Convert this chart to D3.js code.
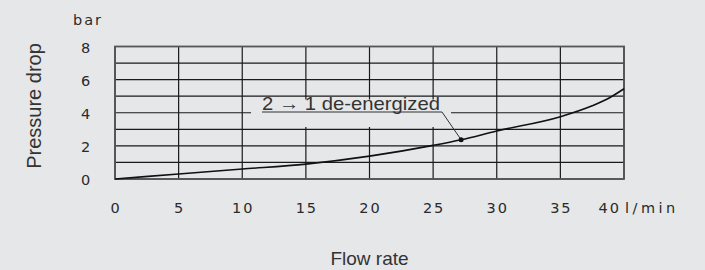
<!DOCTYPE html>
<html>
<head>
<meta charset="utf-8">
<script src="https://cdn.jsdelivr.net/npm/d3@7"></script>
<style>
  body { margin: 0; background: #e6e7e9; }
  svg { display: block; }
  .tick-label { font-family: "DejaVu Sans", sans-serif; font-size: 14.5px; fill: #2a2a2a; letter-spacing: 2px; }
  .title { font-family: "Liberation Sans", Arial, sans-serif; font-size: 20px; fill: #333; }
</style>
</head>
<body>
<svg id="chart"></svg>
<script>
// 데이터
var flowTicks = [0, 5, 10, 15, 20, 25, 30, 35, 40];
var pressureTicks = [0, 2, 4, 6, 8];
var pressureGrid = [0, 1, 2, 3, 4, 5, 6, 7, 8];
var flow = [0, 5, 10, 15, 20, 25, 27.2, 30, 35, 37.5, 38.8, 40];
var pressure = [0, 0.3, 0.6, 0.9, 1.38, 2.03, 2.37, 2.9, 3.76, 4.42, 4.88, 5.45];
var markFlow = 27.2, markPressure = 2.37;
var markLabel = "2 \u2192 1 de-energized";

var width = 705, height = 270;

var svg = d3.select("#chart")
    .attr("width", width)
    .attr("height", height);

svg.append("rect")
    .attr("width", width)
    .attr("height", height)
    .attr("fill", "#e6e7e9");

var x = d3.scaleLinear().domain([0, 40]).range([115, 624]);
var y = d3.scaleLinear().domain([0, 8]).range([179, 46.5]);

// 격자
var grid = svg.append("g").attr("stroke", "#1a1a1a").attr("stroke-width", 1.2);

grid.selectAll(".h")
    .data(pressureGrid)
    .enter().append("line")
    .attr("x1", x(0)).attr("x2", x(40))
    .attr("y1", function(d) { return y(d); })
    .attr("y2", function(d) { return y(d); });

grid.selectAll(".v")
    .data(flowTicks)
    .enter().append("line")
    .attr("y1", y(0)).attr("y2", y(8))
    .attr("x1", function(d) { return x(d); })
    .attr("x2", function(d) { return x(d); });

// 테두리
svg.append("rect")
    .attr("x", x(0)).attr("y", y(8))
    .attr("width", x(40) - x(0))
    .attr("height", y(0) - y(8))
    .attr("fill", "none")
    .attr("stroke", "#555")
    .attr("stroke-width", 1.8);

// 라벨 배경 (격자를 가림)
svg.append("rect")
    .attr("x", 251).attr("y", 99.5)
    .attr("width", 200).attr("height", 27.5)
    .attr("fill", "#e6e7e9");

// 곡선
var line = d3.line()
    .x(function(d, i) { return x(flow[i]); })
    .y(function(d, i) { return y(pressure[i]); })
    .curve(d3.curveMonotoneX);

svg.append("path")
    .datum(flow)
    .attr("d", line)
    .attr("fill", "none")
    .attr("stroke", "#111")
    .attr("stroke-width", 1.6);

// 주석
var labelX = 262, labelY = 112, labelEnd = 442;
svg.append("text")
    .attr("class", "title")
    .attr("x", labelX)
    .attr("y", labelY - 2)
    .style("font-size", "19px")
    .attr("textLength", labelEnd - labelX - 2)
    .attr("lengthAdjust", "spacingAndGlyphs")
    .text(markLabel);

svg.append("polyline")
    .attr("points", [[labelX, labelY], [labelEnd, labelY], [x(markFlow), y(markPressure)]].join(" "))
    .attr("fill", "none")
    .attr("stroke", "#333")
    .attr("stroke-width", 1);

svg.append("circle")
    .attr("cx", x(markFlow))
    .attr("cy", y(markPressure))
    .attr("r", 2.5)
    .attr("fill", "#111");

// 눈금 라벨
svg.selectAll(".xl")
    .data(flowTicks)
    .enter().append("text")
    .attr("class", "tick-label")
    .attr("x", function(d) { return d === 40 ? x(d) - 3 : x(d) + 1; })
    .attr("y", 213)
    .attr("text-anchor", function(d) { return d === 40 ? "end" : "middle"; })
    .text(function(d) { return d; });

svg.append("text")
    .attr("class", "tick-label")
    .attr("x", x(40) + 1)
    .attr("y", 213)
    .style("letter-spacing", "3.5px")
    .text("l/min");

svg.selectAll(".yl")
    .data(pressureTicks)
    .enter().append("text")
    .attr("class", "tick-label")
    .attr("x", 86.5)
    .attr("y", function(d) { return y(d) + 6; })
    .attr("text-anchor", "middle")
    .text(function(d) { return d; });

svg.append("text")
    .attr("class", "tick-label")
    .attr("x", 88)
    .attr("y", 25)
    .attr("text-anchor", "middle")
    .text("bar");

// 축 제목
svg.append("text")
    .attr("class", "title")
    .attr("transform", "translate(40.5,106) rotate(-90)")
    .attr("text-anchor", "middle")
    .text("Pressure drop");

svg.append("text")
    .attr("class", "title")
    .attr("x", 369.5)
    .attr("y", 265)
    .style("font-size", "19px")
    .attr("text-anchor", "middle")
    .text("Flow rate");
</script>
</body>
</html>
